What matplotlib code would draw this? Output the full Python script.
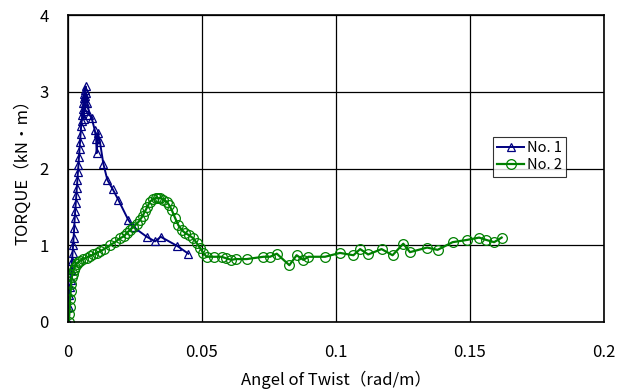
import matplotlib
matplotlib.use("Agg")
import matplotlib.pyplot as plt

plt.rcParams['font.family'] = ['Noto Sans CJK JP', 'DejaVu Sans']

# No. 1 (blue triangles)
x1 = [0.0000, 0.0003, 0.0005, 0.0008, 0.0011, 0.0013, 0.0015, 0.0017, 0.0019, 0.0021,
      0.0023, 0.0025, 0.0027, 0.0029, 0.0031, 0.0033, 0.0035, 0.0037, 0.0039, 0.0041,
      0.0043, 0.0045, 0.0047, 0.0049, 0.0051, 0.0053, 0.0055, 0.0057, 0.0059, 0.0061,
      0.0063, 0.0066, 0.0064, 0.0062, 0.0060, 0.0058, 0.0063, 0.0067, 0.0072, 0.0080,
      0.0088, 0.0100, 0.0105, 0.0107, 0.0112, 0.0119, 0.0132, 0.0147, 0.0167, 0.0188,
      0.0225, 0.0243, 0.0294, 0.0325, 0.0346, 0.0408, 0.0449]
y1 = [0.00, 0.20, 0.35, 0.45, 0.55, 0.68, 0.80, 0.90, 1.00, 1.10,
      1.22, 1.35, 1.45, 1.55, 1.65, 1.75, 1.85, 1.95, 2.05, 2.15,
      2.25, 2.35, 2.45, 2.55, 2.62, 2.70, 2.78, 2.85, 2.92, 2.97,
      3.02, 3.07, 2.95, 2.85, 2.75, 2.65, 2.80, 2.98, 2.85, 2.70,
      2.66, 2.50, 2.38, 2.20, 2.46, 2.35, 2.06, 1.85, 1.73, 1.59,
      1.33, 1.24, 1.11, 1.05, 1.11, 0.99, 0.89]

# No. 2 (green circles)
x2 = [0.0003, 0.0005, 0.0007, 0.0008, 0.0010, 0.0012, 0.0014, 0.0017, 0.0021, 0.0026,
      0.0032, 0.0038, 0.0045, 0.0055, 0.0070, 0.0082, 0.0095, 0.0107, 0.0119, 0.0135,
      0.0157, 0.0175, 0.0194, 0.0210, 0.0219, 0.0232, 0.0244, 0.0257, 0.0269, 0.0278,
      0.0287, 0.0296, 0.0306, 0.0318, 0.0330, 0.0337, 0.0345, 0.0356, 0.0368, 0.0378,
      0.0387, 0.0399, 0.0412, 0.0424, 0.0437, 0.0452, 0.0468, 0.0480, 0.0493, 0.0505,
      0.0517, 0.0545, 0.0573, 0.0590, 0.0610, 0.0625, 0.0667, 0.0729, 0.0754, 0.0779,
      0.0826, 0.0853, 0.0878, 0.0897, 0.0959, 0.1015, 0.1065, 0.1090, 0.1120, 0.1170,
      0.1211, 0.1251, 0.1276, 0.1340, 0.1379, 0.1435, 0.1490, 0.1534, 0.1560, 0.1590,
      0.1618]
y2 = [0.00, 0.10, 0.20, 0.30, 0.40, 0.50, 0.58, 0.63, 0.68, 0.72,
      0.76, 0.78, 0.80, 0.82, 0.84, 0.86, 0.88, 0.90, 0.92, 0.95,
      1.00, 1.04, 1.09, 1.12, 1.16, 1.20, 1.24, 1.28, 1.33, 1.38,
      1.44, 1.50, 1.57, 1.60, 1.62, 1.61, 1.62, 1.59, 1.57, 1.52,
      1.46, 1.36, 1.26, 1.20, 1.16, 1.13, 1.09, 1.03, 0.96, 0.90,
      0.85, 0.85, 0.85, 0.83, 0.81, 0.82, 0.82, 0.85, 0.85, 0.89,
      0.74, 0.87, 0.81, 0.85, 0.85, 0.90, 0.87, 0.95, 0.88, 0.95,
      0.87, 1.02, 0.91, 0.97, 0.94, 1.04, 1.07, 1.10, 1.07, 1.04,
      1.10]

xticks = [0, 0.05, 0.1, 0.15, 0.2]
xtick_labels = ['0', '0.05', '0.1', '0.15', '0.2']
yticks = [0, 1, 2, 3, 4]

fig = plt.figure(figsize=(6.26, 3.89), dpi=100)
ax = fig.add_axes([68/626, 67/389, 536/626, 307/389])

ax.plot(x1, y1, color='#000080', lw=1.4, marker='^', ms=6, mfc='none',
        mec='#000080', mew=0.9, label='No. 1')
ax.plot(x2, y2, color='#008000', lw=1.6, marker='o', ms=7, mfc='none',
        mec='#008000', mew=0.9, label='No. 2')

ax.set_xlim(0, 0.2)
ax.set_ylim(0, 4)
ax.set_xticks(xticks)
ax.set_xticklabels(xtick_labels)
ax.set_yticks(yticks)
ax.tick_params(length=0, labelsize=12)
ax.tick_params(axis='x', pad=16)
ax.tick_params(axis='y', pad=14)
ax.grid(True, color='black', lw=0.9)
for s in ax.spines.values():
    s.set_color('black')
    s.set_linewidth(1.2)

ax.set_xlabel('Angel of Twist（rad/m）', fontsize=12, labelpad=7)
ax.set_ylabel('TORQUE（kN・m）', fontsize=12, labelpad=6)

leg = ax.legend(loc='upper left', bbox_to_anchor=(0.793, 0.603), fontsize=10.5,
                frameon=True, fancybox=False, edgecolor='black',
                handlelength=1.8, handletextpad=0.2, borderpad=0.3,
                labelspacing=0.2, borderaxespad=0)
leg.get_frame().set_linewidth(0.8)

fig.savefig('out.png', dpi=100)
